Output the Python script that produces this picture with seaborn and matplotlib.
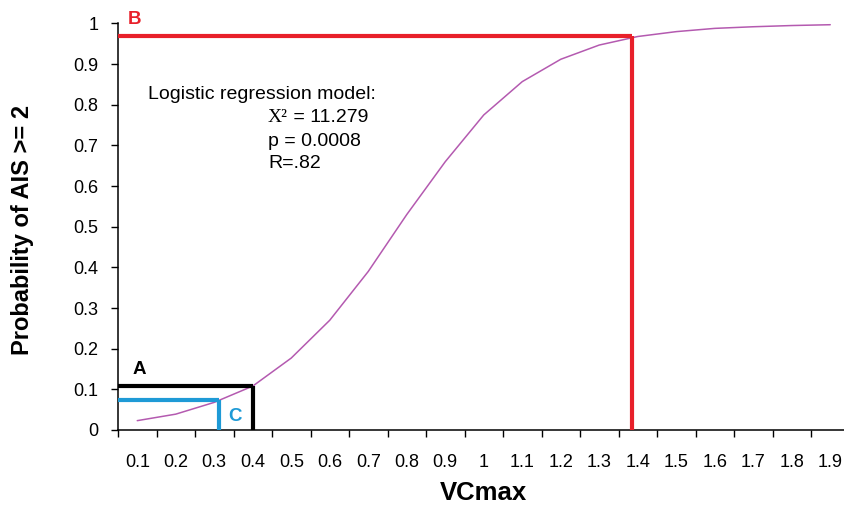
import numpy as np
import pandas as pd
import seaborn as sns
import matplotlib.pyplot as plt

# VCmax categories and fitted probabilities
vcmax = [0.1, 0.2, 0.3, 0.4, 0.5, 0.6, 0.7, 0.8, 0.9, 1.0,
         1.1, 1.2, 1.3, 1.4, 1.5, 1.6, 1.7, 1.8, 1.9]
vcmax_labels = ['0.1', '0.2', '0.3', '0.4', '0.5', '0.6', '0.7', '0.8', '0.9', '1',
                '1.1', '1.2', '1.3', '1.4', '1.5', '1.6', '1.7', '1.8', '1.9']
prob = [0.023, 0.039, 0.068, 0.108, 0.177, 0.27, 0.39, 0.53, 0.66, 0.775,
        0.857, 0.912, 0.947, 0.968, 0.980, 0.988, 0.992, 0.995, 0.997]

# threshold markers (VCmax, probability)
marks = {'A': (0.4, 0.109), 'B': (1.385, 0.970), 'C': (0.312, 0.074)}
mark_colors = {'A': 'black', 'B': '#E8202A', 'C': '#1E9AD6'}

y_ticks = [0, 0.1, 0.2, 0.3, 0.4, 0.5, 0.6, 0.7, 0.8, 0.9, 1]
y_tick_labels = ['0', '0.1', '0.2', '0.3', '0.4', '0.5', '0.6', '0.7', '0.8', '0.9', '1']

stats_lines = ['p = 0.0008', 'R=.82']

sns.set_style('ticks')
plt.rcParams['font.family'] = ['Liberation Sans', 'DejaVu Sans']
plt.rcParams['text.color'] = 'black'
plt.rcParams['axes.labelcolor'] = 'black'
plt.rcParams['xtick.color'] = 'black'
plt.rcParams['ytick.color'] = 'black'

# category positions like an Excel line chart
df = pd.DataFrame({'pos': np.arange(len(vcmax)), 'prob': prob})


def to_pos(v):
    return (v - vcmax[0]) / (vcmax[1] - vcmax[0])


fig = plt.figure(figsize=(8.44, 5.05), dpi=100)
ax = fig.add_axes([118 / 844, 75 / 505, 731.5 / 844, 406.5 / 505])

sns.lineplot(data=df, x='pos', y='prob', ax=ax, color='#B45AB0', linewidth=1.1)

# threshold guide lines
for key, (vx, vy) in marks.items():
    px = to_pos(vx)
    ax.plot([-0.5, px], [vy, vy], color=mark_colors[key], linewidth=3.0,
            solid_capstyle='butt', clip_on=False, zorder=3)
    ax.plot([px, px], [0, vy], color=mark_colors[key], linewidth=3.0,
            solid_capstyle='butt', clip_on=False, zorder=3)

ax.text(-0.06, 1.009, 'B', color=mark_colors['B'], fontsize=13.5, fontweight='bold',
        ha='center', va='center')
ax.text(0.05, 0.148, 'A', color=mark_colors['A'], fontsize=13.5, fontweight='bold',
        ha='center', va='center')
ax.text(2.55, 0.032, 'C', color=mark_colors['C'], fontsize=13.5, fontweight='bold',
        ha='center', va='center')

# model statistics
ax.text(0.041, 0.826, 'Logistic regression model:', transform=ax.transAxes,
        fontsize=14, va='center', ha='left')
chi = ax.text(0.205, 0.769, 'X\u00b2', transform=ax.transAxes, fontsize=14,
              va='center', ha='left', family=['Liberation Serif', 'DejaVu Serif'])
ax.annotate(' = 11.279', xy=(1, 0), xycoords=chi, fontsize=14, va='bottom', ha='left')
for i, line in enumerate(stats_lines):
    ax.text(0.205, 0.710 - i * 0.055, line, transform=ax.transAxes,
            fontsize=14, va='center', ha='left')

ax.set_xlim(-0.5, len(vcmax) - 0.5)
ax.set_ylim(0, 1)

# tick marks between categories, labels at category centres
ax.set_xticks(np.arange(len(vcmax) + 1) - 0.5)
ax.set_xticklabels([])
ax.set_xticks(np.arange(len(vcmax)), minor=True)
ax.set_xticklabels(vcmax_labels, minor=True)
ax.tick_params(axis='x', which='major', length=5, width=1, direction='out')
ax.tick_params(axis='x', which='minor', length=0, pad=17, labelsize=13)

ax.set_yticks(y_ticks)
ax.set_yticklabels(y_tick_labels)
ax.tick_params(axis='y', length=5, width=1, direction='out', pad=9, labelsize=13)

sns.despine(ax=ax)
for s in ['left', 'bottom']:
    ax.spines[s].set_linewidth(1.1)
    ax.spines[s].set_color('black')

ax.set_xlabel('VCmax', fontsize=18.5, fontweight='bold')
ax.set_ylabel('Probability of AIS >= 2', fontsize=17, fontweight='bold')
ax.xaxis.set_label_coords(0.5, -0.155)
ax.yaxis.set_label_coords(-0.13, 0.492)
ax.xaxis.label.set_va('center')
ax.yaxis.label.set_va('center')

fig.savefig('out.png', dpi=100)
